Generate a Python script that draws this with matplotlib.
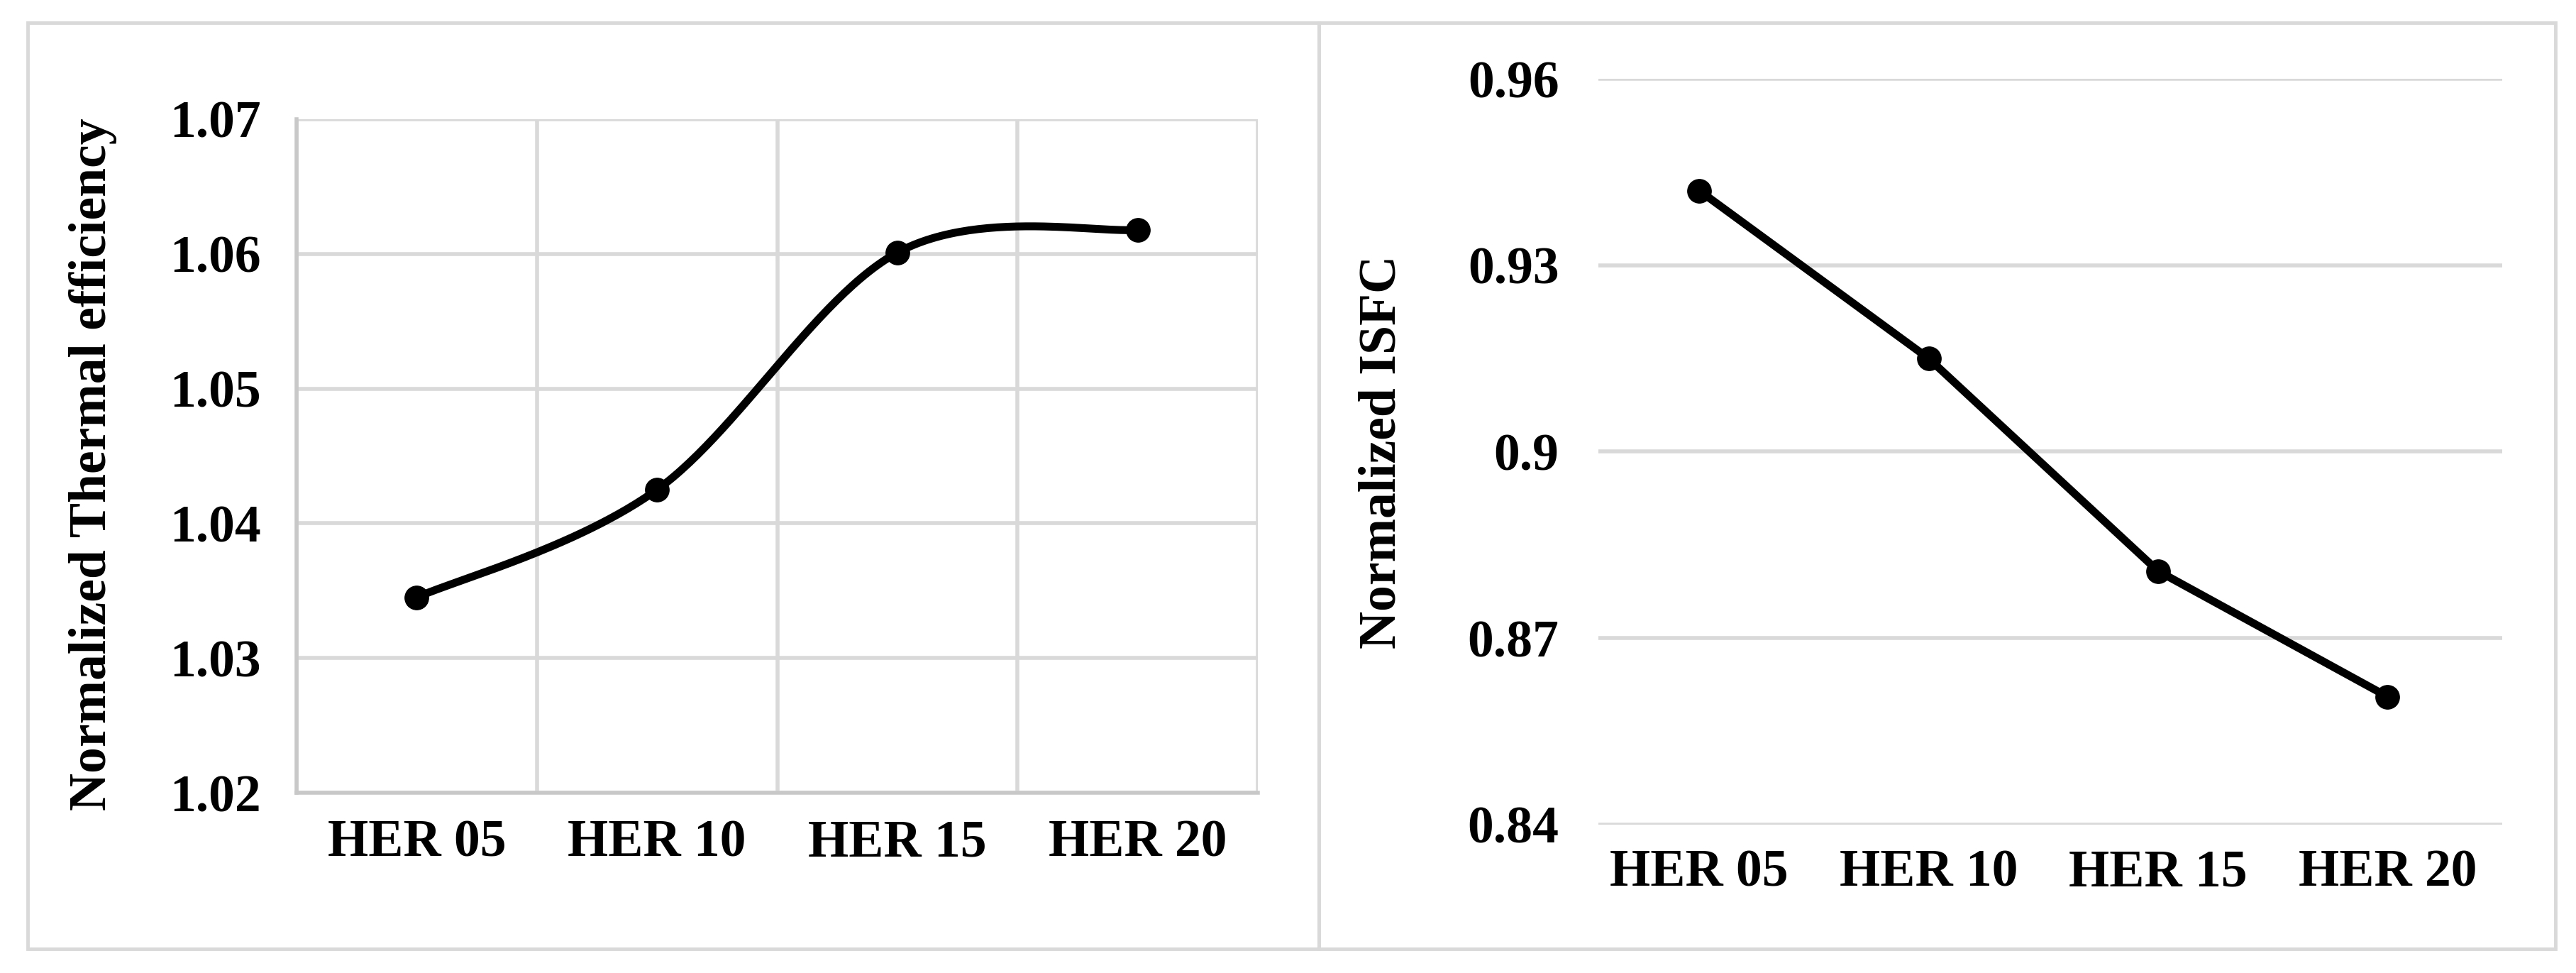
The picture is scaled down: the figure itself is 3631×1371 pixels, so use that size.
import numpy as np
import matplotlib
matplotlib.use("Agg")
import matplotlib.pyplot as plt
from matplotlib.patches import Rectangle

plt.rcParams['font.family'] = ['Liberation Serif', 'DejaVu Serif']
plt.rcParams['font.weight'] = 'bold'
plt.rcParams['axes.labelweight'] = 'bold'

# data
categories = ["HER 05", "HER 10", "HER 15", "HER 20"]
thermal_eff = [1.0345, 1.0425, 1.0601, 1.0618]
isfc = [0.9420, 0.9150, 0.8808, 0.8606]
eff_ticks = [1.02, 1.03, 1.04, 1.05, 1.06, 1.07]
isfc_ticks = [0.84, 0.87, 0.90, 0.93, 0.96]
isfc_ticklabels = ["0.84", "0.87", "0.9", "0.93", "0.96"]

W, H = 3631, 1371
FS = 53
GRID = "#d9d9d9"


def excel_smooth(x, y, n=60):
    # Catmull-Rom style bezier, like Excel's "smoothed line"
    pts = np.column_stack([x, y]).astype(float)
    out = []
    for i in range(len(pts) - 1):
        p0 = pts[max(i - 1, 0)]
        p1 = pts[i]
        p2 = pts[i + 1]
        p3 = pts[min(i + 2, len(pts) - 1)]
        c1 = p1 + (p2 - p0) / 6
        c2 = p2 - (p3 - p1) / 6
        t = np.linspace(0, 1, n)[:, None]
        seg = (1 - t)**3 * p1 + 3 * (1 - t)**2 * t * c1 + 3 * (1 - t) * t**2 * c2 + t**3 * p2
        out.append(seg if i == 0 else seg[1:])
    return np.vstack(out)


def px_box(x0, y0, x1, y1):
    return [x0 / W, 1 - y1 / H, (x1 - x0) / W, (y1 - y0) / H]


fig = plt.figure(figsize=(W / 100, H / 100), dpi=100)

# panel frames
for x0, x1 in [(39, 1859), (1859, 3602)]:
    fig.patches.append(Rectangle((x0 / W, 1 - 1337 / H), (x1 - x0) / W, (1337 - 32) / H,
                                 transform=fig.transFigure, fill=False,
                                 edgecolor=GRID, lw=3.5))

xs = np.arange(len(categories))

# left: thermal efficiency
ax1 = fig.add_axes(px_box(418, 168, 1773, 1117))
curve = excel_smooth(xs, thermal_eff)
ax1.plot(curve[:, 0], curve[:, 1], color="black", lw=8, solid_capstyle="round")
ax1.plot(xs, thermal_eff, "o", color="black", ms=24)
ax1.set_xlim(-0.5, 3.5)
ax1.set_ylim(1.02, 1.07)
ax1.set_yticks(eff_ticks)
ax1.set_yticklabels([f"{v:.2f}" for v in eff_ticks])
ax1.set_xticks(xs)
ax1.set_xticklabels(categories)
ax1.set_xticks(np.arange(-0.5, 4.0, 1.0), minor=True)
ax1.grid(axis="y", color=GRID, lw=4)
ax1.grid(axis="x", which="minor", color=GRID, lw=4)
ax1.set_axisbelow(True)
for s in ["top", "right"]:
    ax1.spines[s].set_visible(False)
for s in ["left", "bottom"]:
    ax1.spines[s].set_color("#c8c8c8")
    ax1.spines[s].set_linewidth(4)
ax1.tick_params(axis="both", which="both", length=0, labelsize=FS)
ax1.tick_params(axis="y", pad=36)
ax1.tick_params(axis="x", pad=27)
ax1.set_ylabel("Normalized Thermal efficiency", fontsize=FS, fontweight="bold", va="center")
ax1.yaxis.set_label_coords(-0.212, 0.488)

# right: ISFC
ax2 = fig.add_axes(px_box(2253, 111, 3527, 1162))
ax2.plot(xs, isfc, "-o", color="black", lw=8, ms=24)
ax2.set_xlim(-0.44, 3.5)
ax2.set_ylim(0.84, 0.96)
ax2.set_yticks(isfc_ticks)
ax2.set_yticklabels(isfc_ticklabels)
ax2.set_xticks(xs)
ax2.set_xticklabels(categories)
ax2.grid(axis="y", color=GRID, lw=4)
ax2.set_axisbelow(True)
for s in ax2.spines.values():
    s.set_visible(False)
ax2.tick_params(axis="both", length=0, labelsize=FS)
ax2.tick_params(axis="y", pad=40)
ax2.tick_params(axis="x", pad=25)
ax2.set_ylabel("Normalized ISFC", fontsize=FS, fontweight="bold", va="center")
ax2.yaxis.set_label_coords(-0.239, 0.5)

fig.savefig("out.png", dpi=100)
